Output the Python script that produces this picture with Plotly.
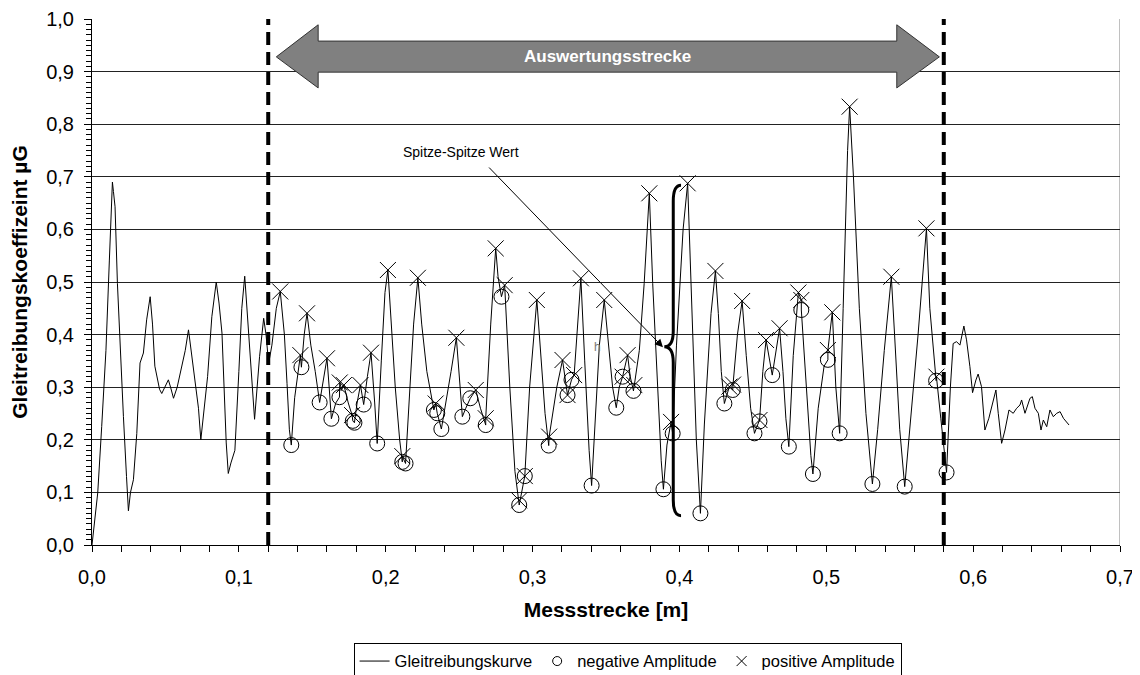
import plotly.graph_objects as go

# ---------------- data ----------------
curve_x = [
    0.0, 0.002, 0.0039, 0.0066, 0.0095, 0.0118, 0.0132, 0.0139, 0.0146, 0.0157,
    0.0173, 0.0195, 0.0214, 0.0235, 0.0248, 0.0262, 0.0282, 0.0305, 0.0327, 0.035,
    0.0372, 0.0396, 0.0412, 0.0428, 0.0441, 0.046, 0.0475, 0.0495, 0.052, 0.0535,
    0.0555, 0.058, 0.0612, 0.0635, 0.0657, 0.068, 0.0703, 0.0725, 0.0741, 0.0765,
    0.0787, 0.0816, 0.0846, 0.0865, 0.0885, 0.0914, 0.0928, 0.0946, 0.0973, 0.100,
    0.102, 0.104, 0.1055, 0.1078, 0.1107, 0.1141, 0.1169, 0.1185, 0.1203, 0.1225,
    0.1255,
    0.1282, 0.131, 0.1328, 0.1344, 0.1357, 0.138, 0.1419, 0.1426, 0.1445, 0.1464,
    0.149, 0.152, 0.155, 0.158, 0.160, 0.1615, 0.163, 0.166, 0.1685, 0.1687,
    0.170, 0.1715, 0.1745, 0.1771, 0.1776, 0.1787, 0.1805, 0.1828, 0.185, 0.1875,
    0.190, 0.1925, 0.1942, 0.197, 0.1995, 0.2015, 0.2035, 0.2065, 0.2095, 0.2113,
    0.2113, 0.2135, 0.216, 0.219, 0.2219, 0.2245, 0.228, 0.2315, 0.2328, 0.234,
    0.2351, 0.2379, 0.241, 0.2445, 0.2481, 0.250, 0.2522, 0.2545, 0.2576, 0.2613,
    0.2645, 0.2681, 0.2681, 0.2715, 0.2749, 0.2765, 0.2788, 0.281, 0.2845, 0.288,
    0.2909, 0.2909, 0.2947, 0.298, 0.3029, 0.3055, 0.3085, 0.311, 0.3113, 0.3165,
    0.3204, 0.3238, 0.3265, 0.3283, 0.3305, 0.3329, 0.3355, 0.3385, 0.3402, 0.3425,
    0.3455, 0.3488, 0.3515, 0.3545, 0.357, 0.359, 0.3613, 0.3647, 0.3665, 0.3687,
    0.3693, 0.3727, 0.376, 0.3784, 0.3795, 0.3818, 0.3852, 0.3876, 0.3891, 0.3915,
    0.3943, 0.3954, 0.398, 0.4025, 0.4056, 0.4085, 0.4115, 0.4143, 0.417, 0.4215,
    0.4245, 0.4265, 0.4285, 0.4306, 0.434, 0.4363, 0.4365, 0.4395, 0.4427, 0.4455,
    0.4485, 0.4511, 0.4545, 0.4545, 0.4568, 0.459, 0.4632, 0.4682, 0.4705, 0.4725,
    0.4745, 0.4775, 0.481, 0.483, 0.483, 0.486, 0.4895, 0.4909, 0.4945, 0.4985,
    0.5011, 0.5011, 0.5041, 0.5065, 0.5091, 0.5115, 0.5145, 0.5159, 0.5185, 0.5225,
    0.527, 0.5314, 0.535, 0.5395, 0.5443, 0.5465, 0.550, 0.5534, 0.557, 0.5625,
    0.5682, 0.5705, 0.5748, 0.575, 0.578, 0.5819,
    0.5845, 0.5864, 0.5887, 0.591, 0.5937, 0.5955, 0.5978, 0.5996, 0.6019, 0.6034,
    0.6057, 0.608, 0.6107, 0.6137, 0.6155, 0.6171, 0.6194, 0.6217, 0.6244, 0.6273,
    0.6296, 0.6319, 0.633, 0.6353, 0.6387, 0.6403, 0.6421, 0.6444, 0.6462, 0.6478,
    0.6501, 0.6523, 0.6546, 0.6569, 0.6592, 0.6615, 0.6632, 0.6653,
]
curve_y = [
    0.0, 0.054, 0.099, 0.225, 0.37, 0.54, 0.672, 0.690, 0.672, 0.643,
    0.4975, 0.35, 0.244, 0.13, 0.065, 0.10, 0.124, 0.212, 0.346, 0.365,
    0.428, 0.472, 0.42, 0.34, 0.32, 0.296, 0.288, 0.30, 0.314, 0.30,
    0.279, 0.30, 0.345, 0.37, 0.409, 0.36, 0.307, 0.26, 0.20, 0.26,
    0.32, 0.434, 0.50, 0.46, 0.403, 0.194, 0.136, 0.156, 0.18, 0.33,
    0.45, 0.511, 0.45, 0.339, 0.239, 0.358, 0.431, 0.40, 0.345, 0.38,
    0.45,
    0.482, 0.40, 0.307, 0.219, 0.19, 0.28, 0.361, 0.338, 0.40, 0.4405,
    0.38, 0.33, 0.271, 0.32, 0.355, 0.30, 0.240, 0.270, 0.281, 0.309,
    0.295, 0.304, 0.27, 0.247, 0.236, 0.2325, 0.27, 0.304, 0.267, 0.32,
    0.3656, 0.27, 0.193, 0.35, 0.48, 0.5228, 0.44, 0.30, 0.20, 0.158,
    0.169, 0.155, 0.28, 0.42, 0.508, 0.42, 0.33, 0.275, 0.2567, 0.269,
    0.2504, 0.2205, 0.27, 0.33, 0.394, 0.32, 0.244, 0.26, 0.279, 0.2947,
    0.26, 0.228, 0.241, 0.42, 0.564, 0.51, 0.472, 0.494, 0.30, 0.14,
    0.085, 0.076, 0.131, 0.30, 0.4658, 0.36, 0.25, 0.189, 0.206, 0.30,
    0.3517, 0.285, 0.314, 0.323, 0.42, 0.507, 0.35, 0.18, 0.113, 0.22,
    0.38, 0.4658, 0.38, 0.30, 0.261, 0.30, 0.32, 0.361, 0.32, 0.293,
    0.304, 0.37, 0.4975, 0.624, 0.6686, 0.4975, 0.307, 0.16, 0.106, 0.19,
    0.234, 0.212, 0.38, 0.60, 0.6876, 0.45, 0.20, 0.0602, 0.23, 0.44,
    0.521, 0.44, 0.33, 0.269, 0.301, 0.2947, 0.305, 0.40, 0.4639, 0.36,
    0.26, 0.2123, 0.2376, 0.235, 0.33, 0.3897, 0.323, 0.412, 0.33, 0.24,
    0.187, 0.36, 0.48, 0.4658, 0.4468, 0.31, 0.17, 0.135, 0.26, 0.34,
    0.352, 0.3707, 0.4424, 0.30, 0.2123, 0.45, 0.75, 0.8333, 0.70, 0.45,
    0.25, 0.116, 0.22, 0.37, 0.51, 0.40, 0.22, 0.111, 0.22, 0.40,
    0.602, 0.45, 0.3124, 0.32, 0.24, 0.138,
    0.30, 0.383, 0.3866, 0.380, 0.4163, 0.39, 0.339, 0.2896, 0.3137, 0.325,
    0.301, 0.2186, 0.241, 0.2757, 0.2947, 0.2504, 0.1933, 0.2186, 0.2567, 0.2504,
    0.2599, 0.2662, 0.2757, 0.2504, 0.2789, 0.282, 0.2599, 0.2504, 0.2186, 0.2376,
    0.2249, 0.2567, 0.2439, 0.2504, 0.2535, 0.2408, 0.2344, 0.2281,
]

neg_x = [0.1357, 0.1426, 0.155, 0.163, 0.1685, 0.1776, 0.1787, 0.185, 0.1942, 0.2113,
         0.2135, 0.2328, 0.2351, 0.2379, 0.2522, 0.2576, 0.2681, 0.2788, 0.2909, 0.2947,
         0.311, 0.3238, 0.3265, 0.3402, 0.357, 0.3613, 0.3687, 0.3891, 0.3954, 0.4143,
         0.4306, 0.4363, 0.4511, 0.4545, 0.4632, 0.4745, 0.483, 0.4909, 0.5011, 0.5091,
         0.5314, 0.5534, 0.5748, 0.5819]
neg_y = [0.19, 0.338, 0.271, 0.240, 0.281, 0.236, 0.2325, 0.267, 0.193, 0.158,
         0.155, 0.2567, 0.2504, 0.2205, 0.244, 0.279, 0.228, 0.472, 0.076, 0.131,
         0.189, 0.285, 0.314, 0.113, 0.261, 0.32, 0.293, 0.106, 0.212, 0.0602,
         0.269, 0.2947, 0.2123, 0.235, 0.323, 0.187, 0.4468, 0.135, 0.352, 0.2123,
         0.116, 0.111, 0.3124, 0.138]

pos_x = [0.1282, 0.1419, 0.1464, 0.160, 0.1687, 0.1715, 0.1771, 0.1828, 0.190, 0.2015,
         0.2113, 0.2219, 0.234, 0.2481, 0.2613, 0.2681, 0.2749, 0.281, 0.2909, 0.2947,
         0.3029, 0.3113, 0.3204, 0.3238, 0.3283, 0.3329, 0.3488, 0.3613, 0.3647, 0.3693,
         0.3795, 0.3943, 0.4056, 0.4245, 0.434, 0.4365, 0.4427, 0.4545, 0.459, 0.4682,
         0.481, 0.483, 0.5011, 0.5041, 0.5159, 0.5443, 0.5682, 0.575]
pos_y = [0.482, 0.361, 0.4405, 0.355, 0.309, 0.304, 0.247, 0.304, 0.3656, 0.5228,
         0.169, 0.508, 0.269, 0.394, 0.2947, 0.241, 0.564, 0.494, 0.085, 0.131,
         0.4658, 0.206, 0.3517, 0.285, 0.323, 0.507, 0.4658, 0.32, 0.361, 0.304,
         0.6686, 0.234, 0.6876, 0.521, 0.301, 0.305, 0.4639, 0.2376, 0.3897, 0.412,
         0.48, 0.4658, 0.3707, 0.4424, 0.8333, 0.51, 0.602, 0.32]

eval_start = 0.12
eval_end = 0.58

FONT = "Liberation Sans, Arial, sans-serif"

fig = go.Figure()

fig.add_trace(go.Scatter(x=curve_x, y=curve_y, mode="lines", showlegend=False,
                         line=dict(color="black", width=1)))
fig.add_trace(go.Scatter(x=neg_x, y=neg_y, mode="markers", showlegend=False,
                         marker=dict(symbol="circle-open", size=15, color="black",
                                     line=dict(width=1, color="black"))))
fig.add_trace(go.Scatter(x=pos_x, y=pos_y, mode="markers", showlegend=False,
                         marker=dict(symbol="x-thin-open", size=16, color="black",
                                     line=dict(width=1, color="black"))))

# legend entries
fig.add_trace(go.Scatter(x=[None], y=[None], mode="lines", name="Gleitreibungskurve",
                         line=dict(color="black", width=1)))
fig.add_trace(go.Scatter(x=[None], y=[None], mode="markers", name="negative Amplitude",
                         marker=dict(symbol="circle-open", size=9, color="black",
                                     line=dict(width=1, color="black"))))
fig.add_trace(go.Scatter(x=[None], y=[None], mode="markers", name="positive Amplitude",
                         marker=dict(symbol="x-thin-open", size=10, color="black",
                                     line=dict(width=1, color="black"))))

# evaluation boundaries
for xv in (eval_start, eval_end):
    fig.add_shape(type="line", x0=xv, x1=xv, y0=0, y1=1, xref="x", yref="y",
                  line=dict(color="black", width=4, dash="13px,7px"), layer="above")

# right frame line
fig.add_shape(type="line", x0=0.7, x1=0.7, y0=0, y1=1, xref="x", yref="y",
              line=dict(color="#808080", width=1), layer="below")

# double arrow "Auswertungsstrecke"
tipL, backL, backR, tipR = 0.1255, 0.154, 0.548, 0.577
yc, hT, sT, sB, hB = 0.928, 0.989, 0.958, 0.899, 0.869
arrow_path = (f"M {tipL},{yc} L {backL},{hT} L {backL},{sT} L {backR},{sT} L {backR},{hT} "
              f"L {tipR},{yc} L {backR},{hB} L {backR},{sB} L {backL},{sB} L {backL},{hB} Z")
fig.add_shape(type="path", path=arrow_path, xref="x", yref="y",
              fillcolor="#808080", line=dict(color="#333333", width=1), layer="above")
fig.add_annotation(x=(tipL + tipR) / 2, y=yc, xref="x", yref="y", showarrow=False,
                   text="<b>Auswertungsstrecke</b>", font=dict(size=17, color="white", family=FONT))

# curly brace (peak-to-peak)
bx, bxr, bxp = 0.3958, 0.4011, 0.3897
bt, bm, bb = 0.684, 0.377, 0.0557
brace_path = (f"M {bxr},{bt} Q {bx},{bt} {bx},{bt-0.03} L {bx},{bm+0.03} "
              f"Q {bx},{bm} {bxp},{bm} Q {bx},{bm} {bx},{bm-0.03} "
              f"L {bx},{bb+0.03} Q {bx},{bb} {bxr},{bb}")
fig.add_shape(type="path", path=brace_path, xref="x", yref="y",
              line=dict(color="black", width=3), layer="above")

# annotation arrow + text
fig.add_annotation(x=0.3888, y=0.376, ax=0.2694, ay=0.7205, xref="x", yref="y",
                   axref="x", ayref="y", text="", showarrow=True, arrowhead=2,
                   arrowsize=1.6, arrowwidth=1, arrowcolor="black")
fig.add_annotation(x=0.251, y=0.747, xref="x", yref="y", showarrow=False,
                   text="Spitze-Spitze Wert", font=dict(size=14, color="black", family=FONT))
fig.add_annotation(x=0.3445, y=0.376, xref="x", yref="y", showarrow=False,
                   text="h", font=dict(size=12, color="#777777", family=FONT))

# the page adds an 8px body margin, so the figure is 8px smaller than the window
fig.update_layout(
    width=1132, height=667,
    margin=dict(l=84, r=20, t=11, b=130, autoexpand=False),
    paper_bgcolor="white", plot_bgcolor="white",
    separators=",.",
    font=dict(family=FONT, size=20, color="black"),
    showlegend=True,
    legend=dict(orientation="h", x=0.521, xanchor="center", y=-0.186, yanchor="top",
                bordercolor="black", borderwidth=1, bgcolor="white",
                font=dict(size=16.5, family=FONT), itemwidth=30,
                tracegroupgap=0),
    xaxis=dict(range=[0, 0.7], tick0=0, dtick=0.1, tickformat=".1f",
               ticks="outside", ticklen=6, tickcolor="black", tickwidth=1,
               showline=True, linecolor="black", linewidth=1,
               showgrid=False, zeroline=False, automargin=False, ticklabelstandoff=8,
               minor=dict(dtick=0.02, ticks="outside", ticklen=6, tickcolor="black", showgrid=False),
               title=dict(text="<b>Messstrecke [m]</b>", font=dict(size=21), standoff=15)),
    yaxis=dict(range=[0, 1], tick0=0, dtick=0.1, tickformat=".1f",
               ticks="outside", ticklen=7, tickcolor="black", tickwidth=1,
               showline=True, linecolor="black", linewidth=1,
               showgrid=True, gridcolor="#222222", gridwidth=1, zeroline=False,
               automargin=False, ticklabelstandoff=6,
               minor=dict(dtick=0.01, ticks="outside", ticklen=5, tickcolor="black", showgrid=False),
               title=dict(text="<b>Gleitreibungskoeffizeint µG</b>", font=dict(size=21), standoff=12)),
    yaxis2=dict(range=[0, 1], overlaying="y", side="left", anchor="x", tick0=0, dtick=0.1,
                ticks="inside", ticklen=6, tickcolor="black", showticklabels=False,
                showgrid=False, zeroline=False, showline=False,
                minor=dict(dtick=0.01, ticks="inside", ticklen=5, tickcolor="black", showgrid=False)),
)

fig.write_html("out.html")
